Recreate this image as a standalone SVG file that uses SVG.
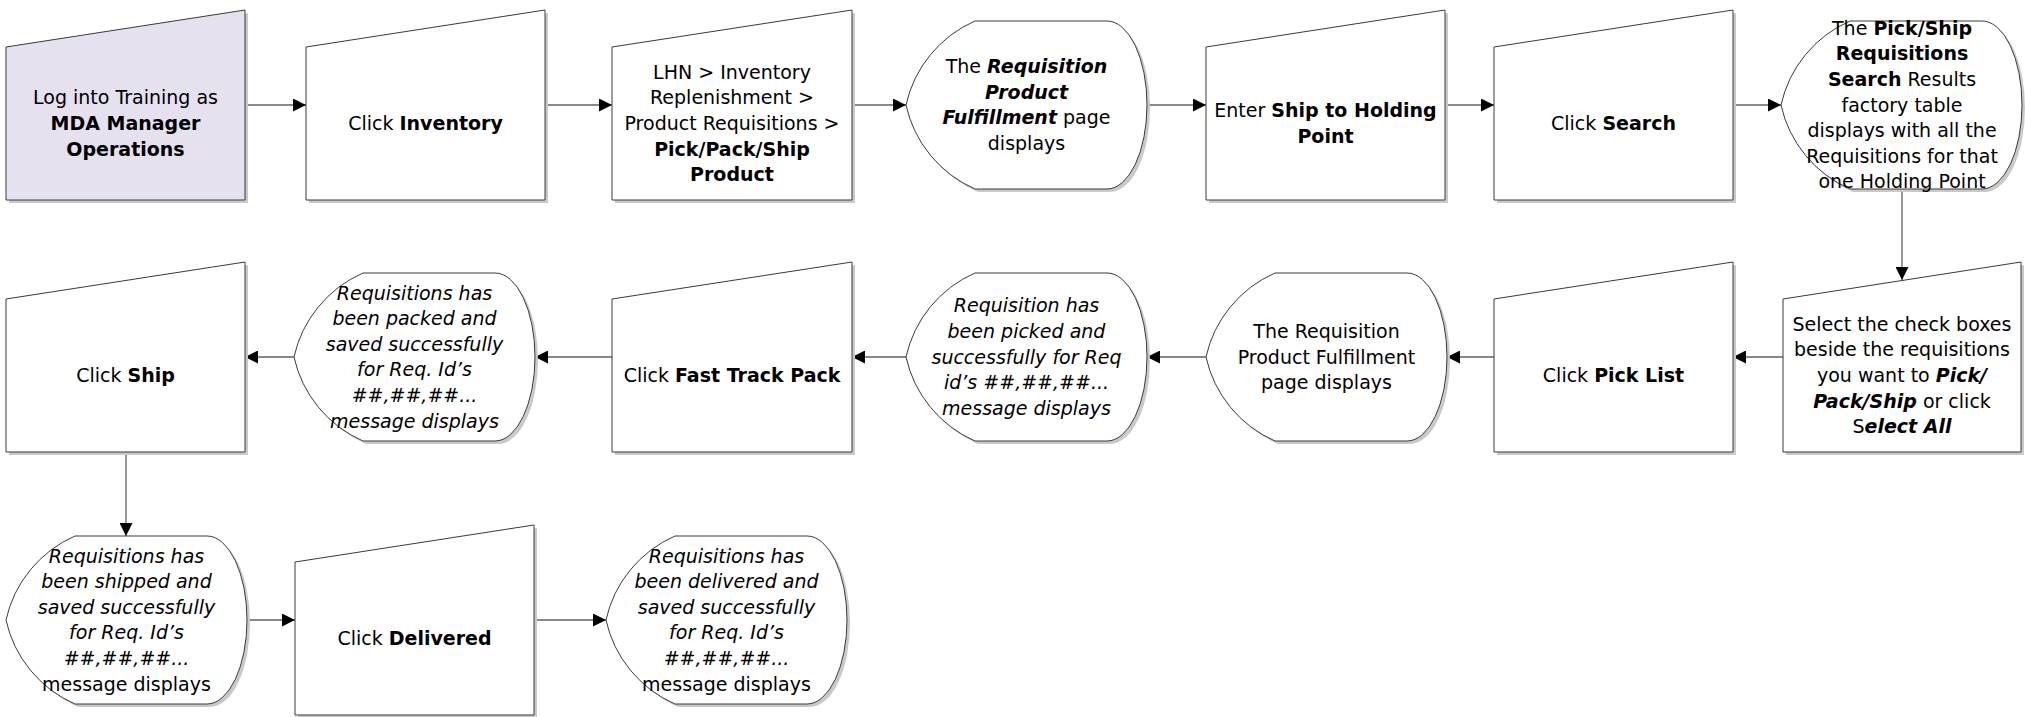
<svg xmlns="http://www.w3.org/2000/svg" width="2025" height="717" viewBox="0 0 2025 717">
<defs>
<style>
.sh{fill:#c9c9c9;stroke:none}
.s{fill:#ffffff;stroke:#3a3a3a;stroke-width:1}
.lav{fill:#e5e1ee}
text{font-family:"DejaVu Sans",Verdana,sans-serif;font-size:19px;text-anchor:middle;fill:#000}
.b{font-weight:bold}
.i{font-style:italic}
.bi{font-weight:bold;font-style:italic}
.c{fill:none;stroke:#606060;stroke-width:1.3;marker-end:url(#arr)}
</style>
<marker id="arr" viewBox="0 0 10 10" refX="10" refY="5" markerWidth="15" markerHeight="13" markerUnits="userSpaceOnUse" orient="auto">
<path d="M0,0 L10,5 L0,10 Z" fill="#000"/>
</marker>
</defs>
<rect width="2025" height="717" fill="#ffffff"/>

<g id="connectors">
<path class="c" d="M245,105 H306"/>
<path class="c" d="M545,105 H612"/>
<path class="c" d="M852,105 H906"/>
<path class="c" d="M1148,105 H1206"/>
<path class="c" d="M1445,105 H1494"/>
<path class="c" d="M1733,105 H1781"/>
<path class="c" d="M1902,189 V280"/>
<path class="c" d="M1783,357 H1733"/>
<path class="c" d="M1494,357 H1447"/>
<path class="c" d="M1206,357 H1147"/>
<path class="c" d="M906,357 H852"/>
<path class="c" d="M612,357 H535"/>
<path class="c" d="M294,357 H245"/>
<path class="c" d="M126,452 V536"/>
<path class="c" d="M247,620 H295"/>
<path class="c" d="M534,620 H606"/>
</g>

<g id="n1">
<path class="sh" transform="translate(3,3)" d="M6,47 L245,10 L245,200 L6,200 Z"/>
<path class="s lav" d="M6,47 L245,10 L245,200 L6,200 Z"/>
<text x="125.5" y="104.4">Log into Training as</text>
<text x="125.5" y="130" class="b">MDA Manager</text>
<text x="125.5" y="155.6" class="b">Operations</text>
</g>

<g id="n2">
<path class="sh" transform="translate(3,3)" d="M306,47 L545,10 L545,200 L306,200 Z"/>
<path class="s" d="M306,47 L545,10 L545,200 L306,200 Z"/>
<text x="425.5" y="130">Click <tspan class="b">Inventory</tspan></text>
</g>

<g id="n3">
<path class="sh" transform="translate(3,3)" d="M612,47 L852,10 L852,200 L612,200 Z"/>
<path class="s" d="M612,47 L852,10 L852,200 L612,200 Z"/>
<text x="732" y="78.8">LHN &gt; Inventory</text>
<text x="732" y="104.4">Replenishment &gt;</text>
<text x="732" y="130">Product Requisitions &gt;</text>
<text x="732" y="155.6" class="b">Pick/Pack/Ship</text>
<text x="732" y="181.2" class="b">Product</text>
</g>

<g id="n4">
<path class="sh" transform="translate(3,3)" d="M975,21 L1107,21 A40,84 0 0 1 1107,189 L975,189 A120,120 0 0 1 906,105 A120,120 0 0 1 975,21 Z"/>
<path class="s" d="M975,21 L1107,21 A40,84 0 0 1 1107,189 L975,189 A120,120 0 0 1 906,105 A120,120 0 0 1 975,21 Z"/>
<text x="1026.5" y="73.1">The <tspan class="bi">Requisition</tspan></text>
<text x="1026.5" y="98.7" class="bi">Product</text>
<text x="1026.5" y="124.3"><tspan class="bi">Fulfillment</tspan> page</text>
<text x="1026.5" y="149.9">displays</text>
</g>

<g id="n5">
<path class="sh" transform="translate(3,3)" d="M1206,47 L1445,10 L1445,200 L1206,200 Z"/>
<path class="s" d="M1206,47 L1445,10 L1445,200 L1206,200 Z"/>
<text x="1325.5" y="117.2">Enter <tspan class="b">Ship to Holding</tspan></text>
<text x="1325.5" y="142.8" class="b">Point</text>
</g>

<g id="n6">
<path class="sh" transform="translate(3,3)" d="M1494,47 L1733,10 L1733,200 L1494,200 Z"/>
<path class="s" d="M1494,47 L1733,10 L1733,200 L1494,200 Z"/>
<text x="1613.5" y="130">Click <tspan class="b">Search</tspan></text>
</g>

<g id="n7">
<path class="sh" transform="translate(3,3)" d="M1850,21 L1982,21 A40,84 0 0 1 1982,189 L1850,189 A120,120 0 0 1 1781,105 A120,120 0 0 1 1850,21 Z"/>
<path class="s" d="M1850,21 L1982,21 A40,84 0 0 1 1982,189 L1850,189 A120,120 0 0 1 1781,105 A120,120 0 0 1 1850,21 Z"/>
<text x="1902" y="34.7">The <tspan class="b">Pick/Ship</tspan></text>
<text x="1902" y="60.3" class="b">Requisitions</text>
<text x="1902" y="85.9"><tspan class="b">Search</tspan> Results</text>
<text x="1902" y="111.5">factory table</text>
<text x="1902" y="137.1">displays with all the</text>
<text x="1902" y="162.7">Requisitions for that</text>
<text x="1902" y="188.3">one Holding Point</text>
</g>

<g id="n8">
<path class="sh" transform="translate(3,3)" d="M1783,299 L2021,262 L2021,452 L1783,452 Z"/>
<path class="s" d="M1783,299 L2021,262 L2021,452 L1783,452 Z"/>
<text x="1902" y="330.8">Select the check boxes</text>
<text x="1902" y="356.4">beside the requisitions</text>
<text x="1902" y="382">you want to <tspan class="bi">Pick/</tspan></text>
<text x="1902" y="407.6"><tspan class="bi">Pack/Ship</tspan> or click</text>
<text x="1902" y="433.2">S<tspan class="bi">elect All</tspan></text>
</g>

<g id="n9">
<path class="sh" transform="translate(3,3)" d="M1494,299 L1733,262 L1733,452 L1494,452 Z"/>
<path class="s" d="M1494,299 L1733,262 L1733,452 L1494,452 Z"/>
<text x="1613.5" y="382">Click <tspan class="b">Pick List</tspan></text>
</g>

<g id="n10">
<path class="sh" transform="translate(3,3)" d="M1275,273 L1407,273 A40,84 0 0 1 1407,441 L1275,441 A120,120 0 0 1 1206,357 A120,120 0 0 1 1275,273 Z"/>
<path class="s" d="M1275,273 L1407,273 A40,84 0 0 1 1407,441 L1275,441 A120,120 0 0 1 1206,357 A120,120 0 0 1 1275,273 Z"/>
<text x="1326.5" y="337.9">The Requisition</text>
<text x="1326.5" y="363.5">Product Fulfillment</text>
<text x="1326.5" y="389.1">page displays</text>
</g>

<g id="n11">
<path class="sh" transform="translate(3,3)" d="M975,273 L1107,273 A40,84 0 0 1 1107,441 L975,441 A120,120 0 0 1 906,357 A120,120 0 0 1 975,273 Z"/>
<path class="s" d="M975,273 L1107,273 A40,84 0 0 1 1107,441 L975,441 A120,120 0 0 1 906,357 A120,120 0 0 1 975,273 Z"/>
<text class="i" x="1026.5" y="312.3">Requisition has</text>
<text class="i" x="1026.5" y="337.9">been picked and</text>
<text class="i" x="1026.5" y="363.5">successfully for Req</text>
<text class="i" x="1026.5" y="389.1">id’s ##,##,##...</text>
<text class="i" x="1026.5" y="414.7">message displays</text>
</g>

<g id="n12">
<path class="sh" transform="translate(3,3)" d="M612,299 L852,262 L852,452 L612,452 Z"/>
<path class="s" d="M612,299 L852,262 L852,452 L612,452 Z"/>
<text x="732" y="382">Click <tspan class="b">Fast Track Pack</tspan></text>
</g>

<g id="n13">
<path class="sh" transform="translate(3,3)" d="M363,273 L495,273 A40,84 0 0 1 495,441 L363,441 A120,120 0 0 1 294,357 A120,120 0 0 1 363,273 Z"/>
<path class="s" d="M363,273 L495,273 A40,84 0 0 1 495,441 L363,441 A120,120 0 0 1 294,357 A120,120 0 0 1 363,273 Z"/>
<text class="i" x="414.5" y="299.5">Requisitions has</text>
<text class="i" x="414.5" y="325.1">been packed and</text>
<text class="i" x="414.5" y="350.7">saved successfully</text>
<text class="i" x="414.5" y="376.3">for Req. Id’s</text>
<text class="i" x="414.5" y="401.9">##,##,##...</text>
<text class="i" x="414.5" y="427.5">message displays</text>
</g>

<g id="n14">
<path class="sh" transform="translate(3,3)" d="M6,299 L245,262 L245,452 L6,452 Z"/>
<path class="s" d="M6,299 L245,262 L245,452 L6,452 Z"/>
<text x="125.5" y="382">Click <tspan class="b">Ship</tspan></text>
</g>

<g id="n15">
<path class="sh" transform="translate(3,3)" d="M75,536 L207,536 A40,84 0 0 1 207,704 L75,704 A120,120 0 0 1 6,620 A120,120 0 0 1 75,536 Z"/>
<path class="s" d="M75,536 L207,536 A40,84 0 0 1 207,704 L75,704 A120,120 0 0 1 6,620 A120,120 0 0 1 75,536 Z"/>
<text class="i" x="126.5" y="562.5">Requisitions has</text>
<text class="i" x="126.5" y="588.1">been shipped and</text>
<text class="i" x="126.5" y="613.7">saved successfully</text>
<text class="i" x="126.5" y="639.3">for Req. Id’s</text>
<text class="i" x="126.5" y="664.9">##,##,##...</text>
<text x="126.5" y="690.5">message displays</text>
</g>

<g id="n16">
<path class="sh" transform="translate(3,3)" d="M295,562 L534,525 L534,715 L295,715 Z"/>
<path class="s" d="M295,562 L534,525 L534,715 L295,715 Z"/>
<text x="414.5" y="645">Click <tspan class="b">Delivered</tspan></text>
</g>

<g id="n17">
<path class="sh" transform="translate(3,3)" d="M675,536 L807,536 A40,84 0 0 1 807,704 L675,704 A120,120 0 0 1 606,620 A120,120 0 0 1 675,536 Z"/>
<path class="s" d="M675,536 L807,536 A40,84 0 0 1 807,704 L675,704 A120,120 0 0 1 606,620 A120,120 0 0 1 675,536 Z"/>
<text class="i" x="726.5" y="562.5">Requisitions has</text>
<text class="i" x="726.5" y="588.1">been delivered and</text>
<text class="i" x="726.5" y="613.7">saved successfully</text>
<text class="i" x="726.5" y="639.3">for Req. Id’s</text>
<text class="i" x="726.5" y="664.9">##,##,##...</text>
<text x="726.5" y="690.5">message displays</text>
</g>
</svg>
